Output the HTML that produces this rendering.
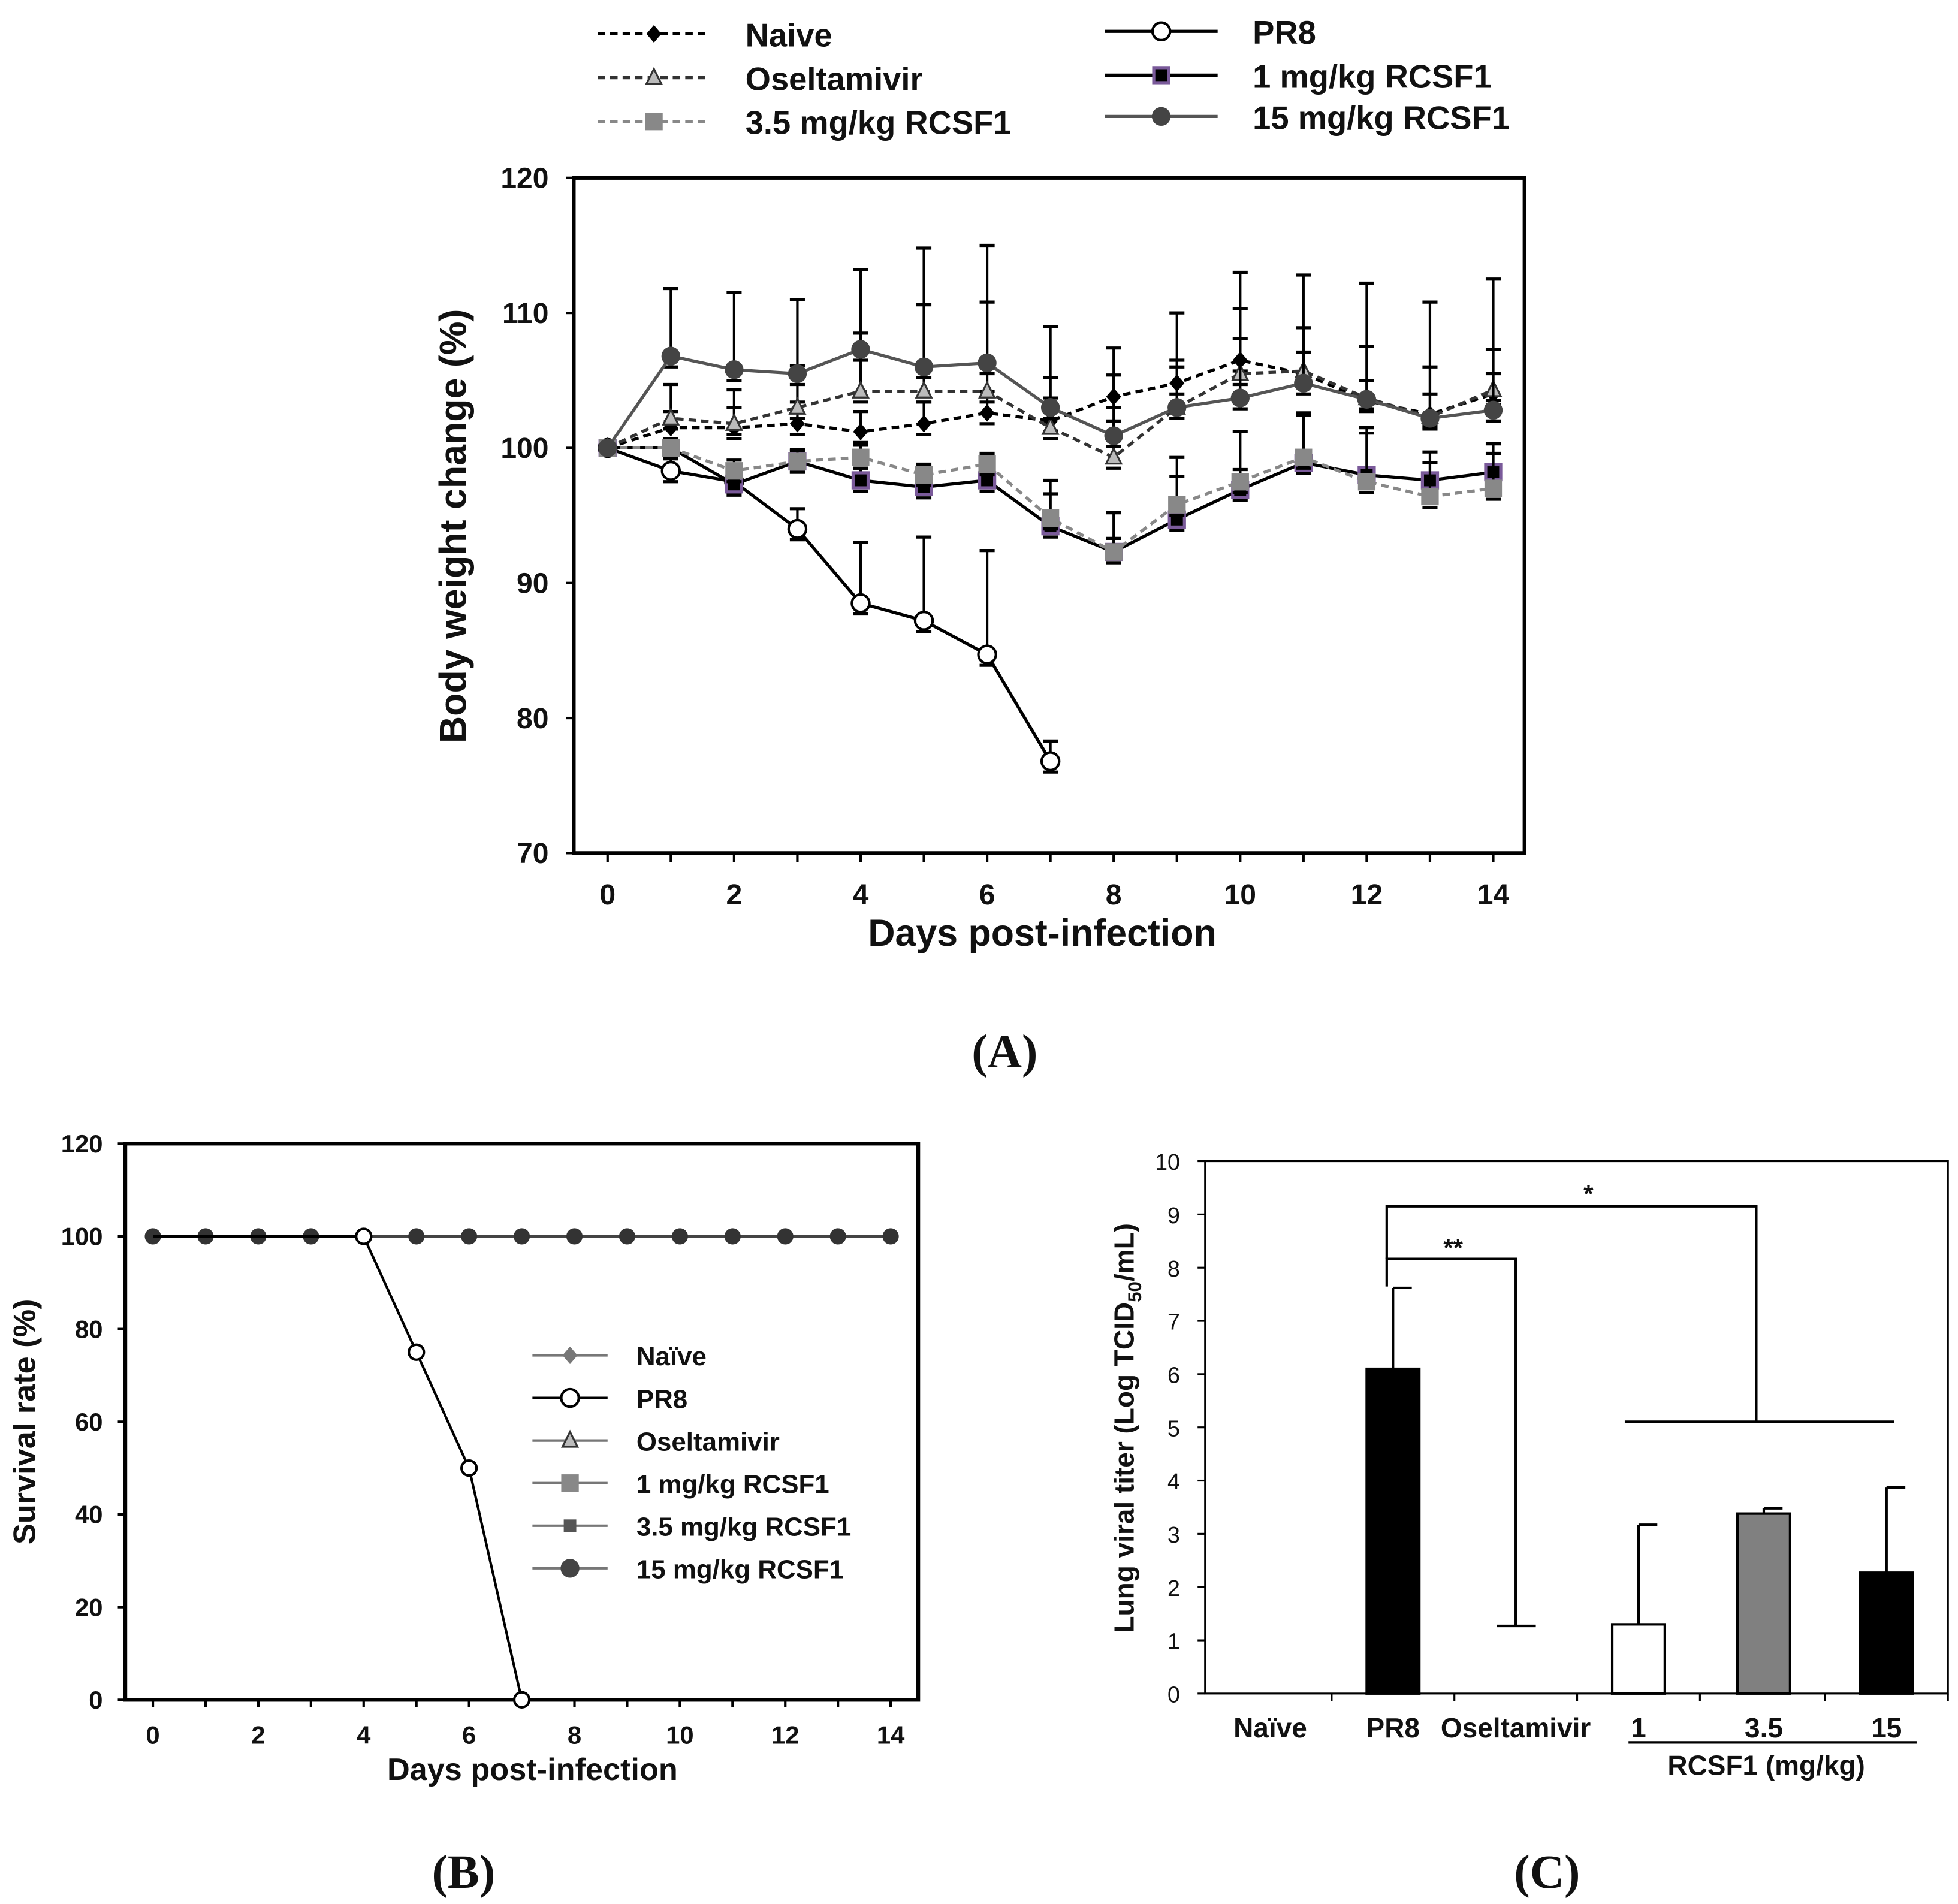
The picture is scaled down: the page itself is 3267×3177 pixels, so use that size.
<!DOCTYPE html>
<html><head><meta charset="utf-8"><style>
html,body{margin:0;padding:0;background:#fff}
svg{display:block}
text{font-family:"Liberation Sans",sans-serif;font-weight:bold;fill:#111}
</style></head><body>
<svg id="fig" xmlns="http://www.w3.org/2000/svg" width="3267" height="3177" viewBox="0 0 1563 1520">
<g id="A"></g>
<g id="B"></g>
<g id="C"></g>
<text x="802" y="852" text-anchor="middle" font-size="38" style="font-family:'Liberation Serif',serif">(A)</text>
<text x="370" y="1507" text-anchor="middle" font-size="38" style="font-family:'Liberation Serif',serif">(B)</text>
<text x="1235" y="1507" text-anchor="middle" font-size="38" style="font-family:'Liberation Serif',serif">(C)</text>
</svg>
<script>
// ---- Panel A data ----
const daysA=[0,1,2,3,4,5,6,7,8,9,10,11,12,13,14];
const yTicksA=[70,80,90,100,110,120];
const xTicksA=[0,2,4,6,8,10,12,14];
const naive=[100,101.5,101.5,101.8,101.2,101.8,102.6,102,103.8,104.8,106.5,105.5,103.5,102.5,104];
const naiveErr=[0,1.2,1.5,1.6,1.5,1.6,1.6,1.7,1.6,1.7,1.6,1.6,1.5,1.5,1.5];
const pr8=[100,98.3,97.5,94,88.5,87.2,84.7,76.8];
const pr8Err=[0,0.9,0.8,1.5,4.5,6.2,7.7,1.5];
const osel=[100,102.2,101.8,103,104.2,104.2,104.2,101.5,99.3,103,105.5,105.7,103.7,102.3,104.3];
const oselErr=[0,2.5,2.5,3.1,4.3,6.4,6.6,3.7,2.7,3.0,4.8,3.2,3.8,3.7,3.0];
const r1=[100,100,97.3,99,97.6,97.1,97.6,94.2,92.3,94.7,96.9,98.9,98,97.6,98.2];
const r1Err=[0,0.6,0.8,0.8,0.9,0.9,0.8,2.4,2.9,3.2,4.3,3.5,3.5,1.3,1.4];
const r35=[100,100,98.3,99,99.3,98,98.8,94.8,92.3,95.8,97.5,99.3,97.5,96.4,97];
const r35Err=[0,0.6,0.8,0.9,0.9,0.8,0.8,2.8,1.0,3.5,0.9,3.3,3.6,3.3,3.3];
const r15=[100,106.8,105.8,105.5,107.3,106,106.3,103,100.9,103,103.7,104.8,103.6,102.2,102.8];
const r15Err=[0,5,5.7,5.5,5.9,8.8,8.7,6,6.5,7,9.3,8,8.6,8.6,9.7];
// ---- Panel B data ----
const daysB=[0,1,2,3,4,5,6,7,8,9,10,11,12,13,14];
const pr8Surv=[100,100,100,100,100,75,50,0];
const otherSurv=[100,100,100,100,100,100,100,100,100,100,100,100,100,100,100];
const yTicksB=[0,20,40,60,80,100,120];
const xTicksB=[0,2,4,6,8,10,12,14];
const legendB=["Naïve","PR8","Oseltamivir","1 mg/kg RCSF1","3.5 mg/kg RCSF1","15 mg/kg RCSF1"];
// ---- Panel C data ----
const catsC=["Naïve","PR8","Oseltamivir","1","3.5","15"];
const titer=[null,6.1,null,1.3,3.38,2.27];
const titerErr=[null,1.52,null,1.87,0.1,1.6];
const titerFill=["#000","#000","#000","#fff","#808080","#000"];
const yTicksC=[0,1,2,3,4,5,6,7,8,9,10];

const NS="http://www.w3.org/2000/svg";
function mk(p,tag,a,txt){const e=document.createElementNS(NS,tag);for(const k in a)e.setAttribute(k,a[k]);if(txt!=null)e.textContent=txt;p.appendChild(e);return e;}

// ===== Panel A =====
const A=document.getElementById('A');
const ax=d=>485+d*50.5, ay=v=>681-(v-70)*(539/50);
let f=mk(A,'rect',{x:458,y:142,width:759,height:539,fill:'none',stroke:'#000','stroke-width':3});

yTicksA.forEach(v=>{let t=mk(A,'text',{x:438,y:ay(v)+8,'text-anchor':'end','font-size':23},v);

mk(A,'line',{x1:452,x2:458,y1:ay(v),y2:ay(v),stroke:'#000','stroke-width':2});});
daysA.forEach(d=>{mk(A,'line',{x1:ax(d),x2:ax(d),y1:681,y2:688,stroke:'#000','stroke-width':2});});
xTicksA.forEach(d=>{let t=mk(A,'text',{x:ax(d),y:722,'text-anchor':'middle','font-size':23},d);
});
let t=mk(A,'text',{x:832,y:755,'text-anchor':'middle','font-size':30},'Days post-infection');

t=mk(A,'text',{x:372,y:420,'text-anchor':'middle','font-size':30,transform:'rotate(-90 372 420)'},'Body weight change (%)');


function marker(g,type,x,y,s){
 if(type==='diamond')return mk(g,'path',{d:`M${x} ${y-7}L${x+6} ${y}L${x} ${y+7}L${x-6} ${y}Z`,fill:'#000'});
 if(type==='tri')return mk(g,'path',{d:`M${x} ${y-7}L${x+6} ${y+5}L${x-6} ${y+5}Z`,fill:'#bbb',stroke:'#333','stroke-width':1.5});
 if(type==='open')return mk(g,'circle',{cx:x,cy:y,r:7,fill:'#fff',stroke:'#000','stroke-width':2});
 if(type==='psq')return mk(g,'rect',{x:x-6,y:y-6,width:12,height:12,fill:'#000',stroke:'#7a5a9a','stroke-width':2.5});
 if(type==='gsq')return mk(g,'rect',{x:x-7,y:y-7,width:14,height:14,fill:'#888'});
 if(type==='dot')return mk(g,'circle',{cx:x,cy:y,r:7.5,fill:'#444'});
 if(type==='gdia')return mk(g,'path',{d:`M${x} ${y-7}L${x+6} ${y}L${x} ${y+7}L${x-6} ${y}Z`,fill:'#777'});
 if(type==='bsq')return mk(g,'rect',{x:x-5,y:y-5,width:10,height:10,fill:'#555'});
}
const seriesA=[
 {name:'naive',v:naive,e:naiveErr,col:'#000',dash:'6 4',m:'diamond'},
 {name:'pr8',v:pr8,e:pr8Err,col:'#000',dash:'',m:'open'},
 {name:'oseltamivir',v:osel,e:oselErr,col:'#333',dash:'6 4',m:'tri'},
 {name:'rcsf1-1',v:r1,e:r1Err,col:'#000',dash:'',m:'psq'},
 {name:'rcsf1-3-5',v:r35,e:r35Err,col:'#888',dash:'6 4',m:'gsq'},
 {name:'rcsf1-15',v:r15,e:r15Err,col:'#555',dash:'',m:'dot'}];
seriesA.forEach(s=>{const g=mk(A,'g',{});
 
 s.v.forEach((v,i)=>{if(!s.e[i])return;const y1=ay(v),y2=ay(v+s.e[i]);
  mk(g,'line',{x1:ax(i),x2:ax(i),y1:y1,y2:y2,stroke:'#000','stroke-width':2});
  mk(g,'line',{x1:ax(i)-6,x2:ax(i)+6,y1:y2,y2:y2,stroke:'#000','stroke-width':2.5});
  mk(g,'line',{x1:ax(i)-6,x2:ax(i)+6,y1:ay(v-0.8),y2:ay(v-0.8),stroke:'#000','stroke-width':2.5});});
 const pts=s.v.map((v,i)=>ax(i)+','+ay(v)).join(' ');
 mk(g,'polyline',{points:pts,fill:'none',stroke:s.col,'stroke-width':2.5,'stroke-dasharray':s.dash});
 s.v.forEach((v,i)=>{const m=marker(g,s.m,ax(i),ay(v));});});
const legA=[['Naive',477,27,'naive'],['Oseltamivir',477,62,'oseltamivir'],['3.5 mg/kg RCSF1',477,97,'rcsf1-3-5'],['PR8',882,25,'pr8'],['1 mg/kg RCSF1',882,60,'rcsf1-1'],['15 mg/kg RCSF1',882,93,'rcsf1-15']];
legA.forEach(l=>{const s=seriesA.find(q=>q.name===l[3]);const g=mk(A,'g',{});
 
 mk(g,'line',{x1:l[1],x2:l[1]+90,y1:l[2],y2:l[2],stroke:s.col,'stroke-width':2.5,'stroke-dasharray':s.dash});
 marker(g,s.m,l[1]+45,l[2]);
 mk(g,'text',{x:l[1]+118,y:l[2]+10,'font-size':26},l[0]);});

// ===== Panel B =====
const B=document.getElementById('B');
const bx=d=>122+d*42.07, by=v=>1357-v*(444/120);
f=mk(B,'rect',{x:100,y:913,width:633,height:444,fill:'none',stroke:'#000','stroke-width':3});

yTicksB.forEach(v=>{t=mk(B,'text',{x:82,y:by(v)+7,'text-anchor':'end','font-size':20},v);

mk(B,'line',{x1:94,x2:100,y1:by(v),y2:by(v),stroke:'#000','stroke-width':2});});
daysB.forEach(d=>mk(B,'line',{x1:bx(d),x2:bx(d),y1:1357,y2:1363,stroke:'#000','stroke-width':2}));
xTicksB.forEach(d=>{t=mk(B,'text',{x:bx(d),y:1392,'text-anchor':'middle','font-size':20},d);
});
t=mk(B,'text',{x:425,y:1421,'text-anchor':'middle','font-size':25},'Days post-infection');

t=mk(B,'text',{x:28,y:1135,'text-anchor':'middle','font-size':25,transform:'rotate(-90 28 1135)'},'Survival rate (%)');

let gB=mk(B,'g',{});
mk(gB,'polyline',{points:otherSurv.map((v,i)=>bx(daysB[i])+','+by(v)).join(' '),fill:'none',stroke:'#444','stroke-width':2.5});
otherSurv.forEach((v,i)=>{const c=mk(gB,'circle',{cx:bx(daysB[i]),cy:by(v),r:6.5,fill:'#333'});});
gB=mk(B,'g',{});
mk(gB,'polyline',{points:pr8Surv.map((v,i)=>bx(daysB[i])+','+by(v)).join(' '),fill:'none',stroke:'#000','stroke-width':2});
pr8Surv.forEach((v,i)=>{if(i<4)return;const c=mk(gB,'circle',{cx:bx(daysB[i]),cy:by(v),r:6,fill:'#fff',stroke:'#000','stroke-width':2});});
const legMB=['gdia','open','tri','gsq','bsq','dot'];
legendB.forEach((n,i)=>{const y=1082+i*34;const g=mk(B,'g',{});
 
 mk(g,'line',{x1:425,x2:485,y1:y,y2:y,stroke:i==1?'#000':'#777','stroke-width':2});
 marker(g,legMB[i],455,y);
 mk(g,'text',{x:508,y:y+8,'font-size':21},n);});

// ===== Panel C =====
const C=document.getElementById('C');
const cxs=[1014,1112,1210,1308,1408,1506];
const cy=v=>1352-v*42.5;
f=mk(C,'rect',{x:962,y:927,width:593,height:425,fill:'none',stroke:'#000','stroke-width':1.5});

yTicksC.forEach(v=>{t=mk(C,'text',{x:942,y:cy(v)+7,'text-anchor':'end','font-size':18,style:'font-weight:normal'},v);

mk(C,'line',{x1:956,x2:962,y1:cy(v),y2:cy(v),stroke:'#000','stroke-width':1.5});});
catsC.forEach((c,i)=>{t=mk(C,'text',{x:cxs[i],y:1387,'text-anchor':'middle','font-size':22},c);

mk(C,'line',{x1:cxs[i]+49,x2:cxs[i]+49,y1:1352,y2:1358,stroke:'#000','stroke-width':1.5});
 if(titer[i]==null)return;
 const r=mk(C,'rect',{x:cxs[i]-21,y:cy(titer[i]),width:42,height:cy(0)-cy(titer[i]),fill:titerFill[i],stroke:'#000','stroke-width':2});
 
 const yt=cy(titer[i]+titerErr[i]);
 mk(C,'line',{x1:cxs[i],x2:cxs[i],y1:cy(titer[i]),y2:yt,stroke:'#000','stroke-width':2});
 mk(C,'line',{x1:cxs[i],x2:cxs[i]+15,y1:yt,y2:yt,stroke:'#000','stroke-width':2});});
mk(C,'line',{x1:1300,x2:1530,y1:1391,y2:1391,stroke:'#000','stroke-width':2});
t=mk(C,'text',{x:1410,y:1417,'text-anchor':'middle','font-size':22},'RCSF1 (mg/kg)');

t=mk(C,'text',{x:905,y:1140,'text-anchor':'middle','font-size':22,transform:'rotate(-90 905 1140)'});

t.innerHTML='Lung viral titer (Log TCID<tspan font-size="15" dy="6">50</tspan><tspan dy="-6">/mL)</tspan>';
let gs=mk(C,'g',{fill:'none',stroke:'#000','stroke-width':2});

mk(gs,'polyline',{points:'1107,1027 1107,1005 1210,1005 1210,1298'});
mk(gs,'line',{x1:1195,x2:1226,y1:1298,y2:1298});
mk(gs,'polyline',{points:'1107,1005 1107,963 1402,963 1402,1135'});
mk(gs,'line',{x1:1297,x2:1512,y1:1135,y2:1135});
mk(C,'text',{x:1160,y:1003,'text-anchor':'middle','font-size':20},'**');
mk(C,'text',{x:1268,y:960,'text-anchor':'middle','font-size':20},'*');
</script>
</body></html>
